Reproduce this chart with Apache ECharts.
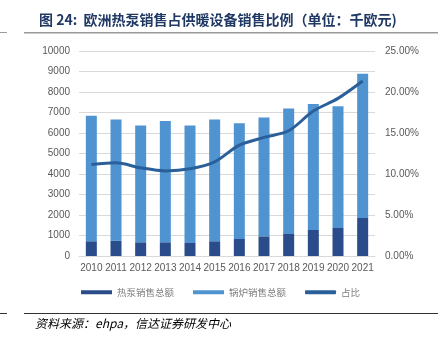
<!DOCTYPE html>
<html><head><meta charset="utf-8">
<script src="https://cdn.jsdelivr.net/npm/echarts@6/dist/echarts.min.js"></script>
<style>html,body{margin:0;padding:0;background:#fff}#c{width:441px;height:343px}</style>
</head><body><div id="c"></div>
<script>
const years = ['2010','2011','2012','2013','2014','2015','2016','2017','2018','2019','2020','2021'];
const heatPump = [720, 750, 670, 670, 640, 720, 830, 960, 1075, 1270, 1370, 1856];
const boiler = [6120, 5910, 5700, 5910, 5730, 5940, 5640, 5800, 6125, 6140, 5930, 7034];
const share = [0.1116, 0.1136, 0.1075, 0.1038, 0.1063, 0.1148, 0.1352, 0.1446, 0.1527, 0.1767, 0.1922, 0.2134];
const leftTicks = [0, 10000, 1000];
const rightTicks = [0, 0.25, 0.05];

const chart = echarts.init(document.getElementById('c'));
const axisFont = {color:'#595959', fontSize:10, fontFamily:'Liberation Sans, Arial, sans-serif'};
chart.setOption({
  animation:false,
  title:{
    text:'图 24:  欧洲热泵销售占供暖设备销售比例（单位：千欧元)',
    left:34, top:8,
    textStyle:{fontSize:14, fontWeight:'bold', color:'#1f3864', fontFamily:'Noto Sans CJK SC'}
  },
  grid:{left:79, right:66, top:51, bottom:87},
  legend:{
    bottom:41, left:'center', itemWidth:31, itemHeight:4, itemGap:19,
    textStyle:{color:'#7f7f7f', fontSize:9.5, fontFamily:'Noto Sans CJK SC'},
    data:[{name:'热泵销售总额', icon:'rect'},{name:'锅炉销售总额', icon:'rect'},{name:'占比', icon:'roundRect'}]
  },
  xAxis:{
    type:'category', data:years,
    axisLine:{lineStyle:{color:'#d9d9d9'}}, axisTick:{show:false},
    axisLabel:Object.assign({margin:7, interval:0}, axisFont)
  },
  yAxis:[
    {type:'value', min:leftTicks[0], max:leftTicks[1], interval:leftTicks[2],
     splitLine:{lineStyle:{color:'#d9d9d9'}}, axisLine:{show:false}, axisTick:{show:false},
     axisLabel:Object.assign({margin:9, formatter:v=>String(v)}, axisFont)},
    {type:'value', min:rightTicks[0], max:rightTicks[1], interval:rightTicks[2],
     splitLine:{show:false}, axisLine:{show:false}, axisTick:{show:false},
     axisLabel:Object.assign({margin:10, formatter:v=>(v*100).toFixed(2)+'%'}, axisFont)}
  ],
  series:[
    {name:'热泵销售总额', type:'bar', stack:'s', data:heatPump, barWidth:11, itemStyle:{color:'#2b4c8a'}},
    {name:'锅炉销售总额', type:'bar', stack:'s', data:boiler, barWidth:11, itemStyle:{color:'#4f94d0'}},
    {name:'占比', type:'line', yAxisIndex:1, data:share, smooth:0.3, symbol:'none',
     lineStyle:{width:3, color:'#2a5f99'}, itemStyle:{color:'#2a5f99'}}
  ],
  graphic:[
    {type:'rect', shape:{x:0,y:32,width:7,height:1}, style:{fill:'#9a9a9a'}},
    {type:'rect', shape:{x:24,y:32,width:414,height:1.5}, style:{fill:'#9a9a9a'}},
    {type:'rect', shape:{x:0,y:313,width:7,height:1}, style:{fill:'#333'}},
    {type:'rect', shape:{x:24,y:313,width:414,height:1}, style:{fill:'#333'}},
    {type:'text', left:35, top:317, style:{text:'资料来源：ehpa，信达证券研发中心', fill:'#000', fontSize:12, fontStyle:'italic', fontFamily:'Noto Sans CJK SC'}}
  ]
});
</script></body></html>
